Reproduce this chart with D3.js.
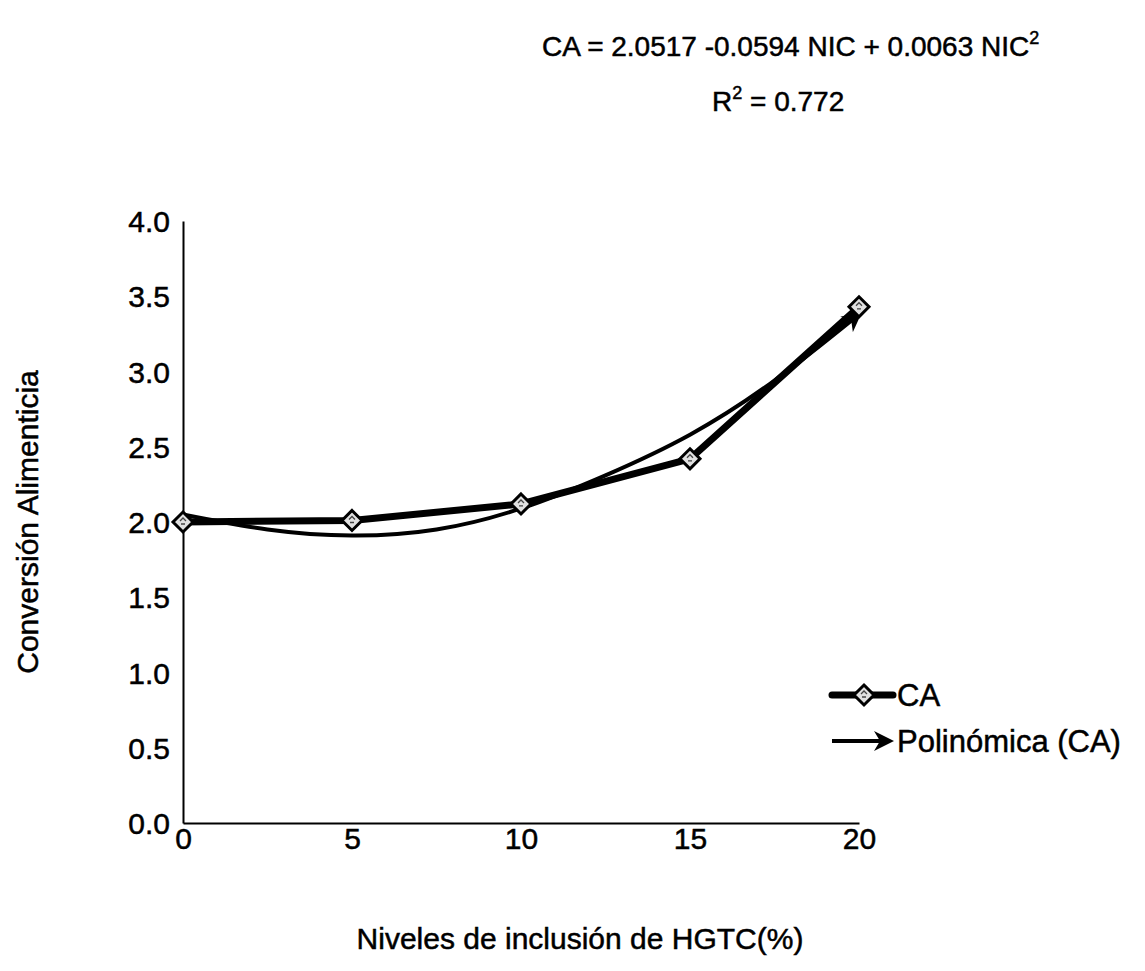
<!DOCTYPE html>
<html><head><meta charset="utf-8">
<script src="https://cdn.jsdelivr.net/npm/d3@7"></script>
<style>
body{margin:0;background:#fff;}
text{font-family:"Liberation Sans",Arial,sans-serif;fill:#000;stroke:#000;stroke-width:0.5px;}
</style></head>
<body>
<svg id="chart" width="1145" height="971"></svg>
<script>
const levels = [0, 5, 10, 15, 20];
const caValues = [2.00, 2.01, 2.12, 2.42, 3.43];
const trendX = [0, 2.5, 5, 7.5, 10, 12.5, 15, 17.5, 20];
const trendValues = [2.05, 1.95, 1.91, 1.95, 2.09, 2.31, 2.58, 2.94, 3.38];
const yTicks = [0, 0.5, 1, 1.5, 2, 2.5, 3, 3.5, 4];
const xTicks = [0, 5, 10, 15, 20];
const seriesNames = ["CA", "Polinómica (CA)"];
const equationText = "CA = 2.0517 -0.0594 NIC + 0.0063 NIC";
const r2Text = "= 0.772";

const svg = d3.select("#chart");
const x = d3.scaleLinear().domain([0, 20]).range([183, 859]);
const y = d3.scaleLinear().domain([0, 4]).range([823, 221]);

const defs = svg.append("defs");
defs.append("marker").attr("id","arrow").attr("viewBox","0 0 10 10")
  .attr("refX",8).attr("refY",5).attr("markerWidth",5).attr("markerHeight",5)
  .attr("markerUnits","strokeWidth").attr("orient","auto")
  .append("path").attr("d","M0,0 L10,5 L0,10 L3,5 Z").attr("fill","#000");

// axes
const yAxis = d3.axisLeft(y).tickValues(yTicks).tickSize(0).tickPadding(13).tickFormat(d3.format(".1f"));
const gy = svg.append("g").attr("transform",`translate(${x(0)},0)`).call(yAxis);
gy.select(".domain").attr("stroke","#000").attr("stroke-width",2);
gy.selectAll("text").style("font-size","30px").attr("dy","0.35em");

const xAxis = d3.axisBottom(x).tickValues(xTicks).tickSize(0).tickPadding(5);
const gx = svg.append("g").attr("transform",`translate(0,${y(0)})`).call(xAxis);
gx.select(".domain").attr("stroke","#000").attr("stroke-width",2);
gx.selectAll("text").style("font-size","30px");

// trend line
const trendLine = d3.line().x((d,i)=>x(trendX[i])).y(d=>y(d)).curve(d3.curveNatural);
svg.append("path").attr("d",trendLine(trendValues)).attr("fill","none")
  .attr("stroke","#000").attr("stroke-width",4).attr("marker-end","url(#arrow)");

// CA series
const caLine = d3.line().x((d,i)=>x(levels[i])).y(d=>y(d));
svg.append("path").attr("d",caLine(caValues)).attr("fill","none")
  .attr("stroke","#000").attr("stroke-width",7).attr("stroke-linejoin","round");

function diamond(g, cx, cy){
  const s = 10;
  g.append("path").attr("d",`M${cx},${cy-s} L${cx+s},${cy} L${cx},${cy+s} L${cx-s},${cy} Z`)
    .attr("fill","#e0e0e0").attr("stroke","#000").attr("stroke-width",3);
  g.append("path").attr("d",`M${cx-3},${cy-1} L${cx},${cy-4} L${cx+3},${cy-1} M${cx-2},${cy+2} L${cx+2},${cy+2}`)
    .attr("fill","none").attr("stroke","#444").attr("stroke-width",1.3);
}
const gm = svg.append("g");
caValues.forEach((v,i)=>diamond(gm, x(levels[i]), y(v)));

// legend
const lg = svg.append("g");
lg.append("line").attr("x1",832).attr("x2",893).attr("y1",695).attr("y2",695)
  .attr("stroke","#000").attr("stroke-width",7).attr("stroke-linecap","round");
diamond(lg, 864, 695);
lg.append("text").attr("x",897).attr("y",695).attr("dy","0.35em").style("font-size","31px").text(seriesNames[0]);
lg.append("line").attr("x1",832).attr("x2",890).attr("y1",741).attr("y2",741)
  .attr("stroke","#000").attr("stroke-width",4).attr("marker-end","url(#arrow)");
lg.append("text").attr("x",897).attr("y",741).attr("dy","0.35em").style("font-size","31px").text(seriesNames[1]);

// equation
const eq = svg.append("text").attr("x",542).attr("y",56).style("font-size","28px");
eq.append("tspan").text(equationText);
eq.append("tspan").attr("dy",-12).style("font-size","18px").text("2");
const r2 = svg.append("text").attr("x",712).attr("y",111).style("font-size","28px");
r2.append("tspan").text("R");
r2.append("tspan").attr("dy",-12).style("font-size","18px").text("2");
r2.append("tspan").attr("dy",12).text(" " + r2Text);

// axis titles
svg.append("text").attr("x",580).attr("y",949).attr("text-anchor","middle")
  .style("font-size","30px").text("Niveles de inclusión de HGTC(%)");
svg.append("text").attr("transform","translate(38,522) rotate(-90)").attr("text-anchor","middle")
  .style("font-size","30px").text("Conversión Alimenticia");
</script>
</body></html>
